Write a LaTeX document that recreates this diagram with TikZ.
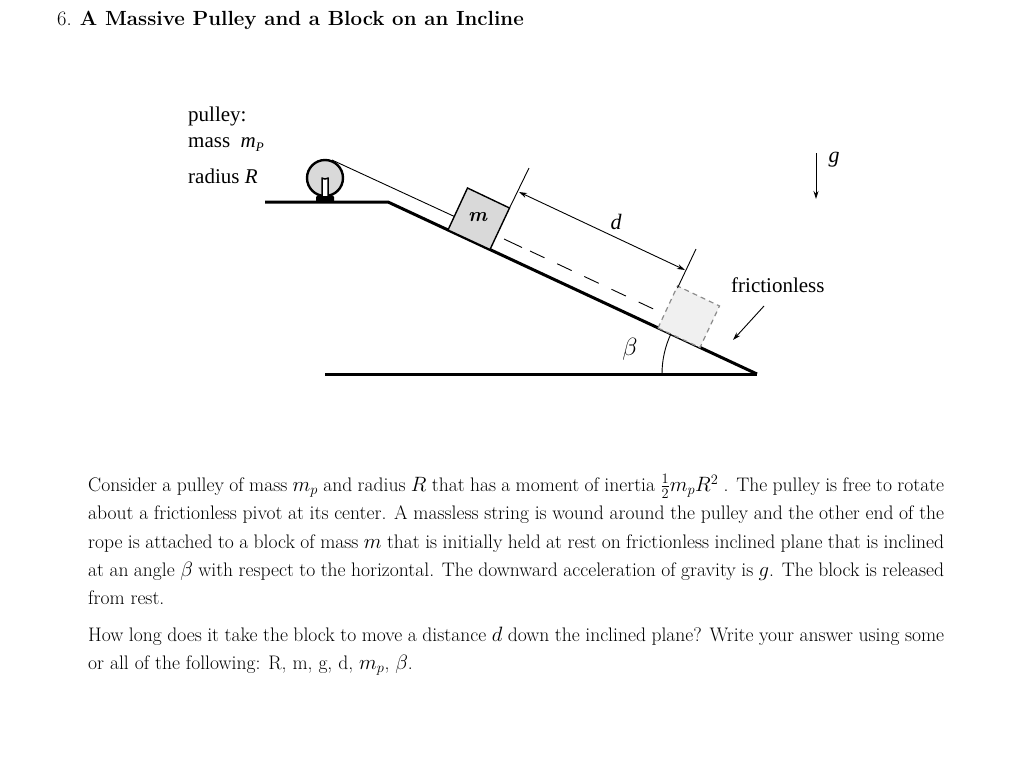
\documentclass[tikz,border=0pt]{standalone}
\usepackage{fontspec}
\newfontfamily\timesf{Liberation Serif}
\usetikzlibrary{arrows.meta}
\begin{document}
\begin{tikzpicture}[x=1pt,y=-1pt,
  thickline/.style={line width=3pt},
  thinline/.style={line width=0.9pt},
  lbl/.style={font=\timesf\fontsize{21}{24}\selectfont, inner sep=0},
  dimarrow/.style={thinline,{Stealth[length=8pt,width=5pt]}-{Stealth[length=8pt,width=5pt]}},
  onearrow/.style={thinline,-{Stealth[length=8pt,width=5pt]}}]
\useasboundingbox (0,0) rectangle (1024,766);
% title
\node[anchor=west,inner sep=0,font=\fontsize{20.5}{25}\selectfont] (title) at (57,20) {6. \textbf{A Massive Pulley and a Block on an Incline}};
% ground
\coordinate (ledgeL) at (265,202);
\coordinate (top) at (388,202);
\coordinate (apex) at (757,374);
\coordinate (baseL) at (325,374);
\draw[thickline,line join=miter] (ledgeL) -- (top) -- (apex);
\draw[thickline] (baseL) -- (apex);
% pulley
\node[circle,draw,line width=2.4pt,fill=black!15,minimum size=36pt,inner sep=0] (pulley) at (325,178) {};
\draw[line width=1.5pt,fill=white,rounded corners=2.5pt] (322,196) -- (322,176) arc(180:0:3) -- (328,196);
\fill[black,rounded corners=1pt] (316,202) rectangle (334,196);
% rope
\coordinate (ropeA) at (332,160);
\coordinate (ropeB) at (462,220);
\draw[thinline] (ropeA) -- (ropeB);
\draw[thinline] (504,239) -- (522,247.5);
\draw[thinline,dash pattern=on 16pt off 14pt] (530,251) -- (662,313);
% block
\draw[line width=1.4pt,fill=black!15] (448,230) -- (490,249.5) -- (509.5,208) -- (467.5,188) -- cycle;
\node[font=\fontsize{20}{24}\selectfont] (m) at (478,217) {\textbf{\textit{m}}};
% dashed box
\draw[line width=1.2pt,draw=black!45,dash pattern=on 5pt off 4pt,fill=black!6] (658,328) -- (700,347.5) -- (719.5,306) -- (677.5,286) -- cycle;
% dimension d
\coordinate (e1a) at (509.5,208); \coordinate (e1b) at (529,168);
\coordinate (e2a) at (677.5,288); \coordinate (e2b) at (696,249);
\draw[thinline] (e1a) -- (e1b);
\draw[thinline] (e2a) -- (e2b);
\coordinate (d1) at (519,192); \coordinate (d2) at (685,270);
\draw[dimarrow] (d1) -- (d2);
\node[lbl,font=\timesf\itshape\fontsize{22}{24}\selectfont] (d) at (616,222) {d};
% beta
\draw[thinline] (662,374) arc (180:205:95);
\node[inner sep=0,font=\fontsize{24}{26}\selectfont] (beta) at (630,349) {$\beta$};
% frictionless
\node[lbl,anchor=west] (fr) at (731,285) {frictionless};
\coordinate (frA) at (764,306); \coordinate (frB) at (733,340);
\draw[onearrow] (frA) -- (frB);
% g
\coordinate (gA) at (816,153); \coordinate (gB) at (816,199);
\draw[onearrow] (gA) -- (gB);
\node[lbl,font=\timesf\itshape\fontsize{22}{24}\selectfont] (g) at (834,160) {g};
% pulley labels
\node[lbl,anchor=west] (p1) at (188,116) {pulley:};
\node[lbl,anchor=west] (p2) at (188,145) {mass \ \textit{m}\raisebox{-4pt}{\fontsize{13}{14}\selectfont\textit{P}}};
\node[lbl,anchor=west] (p3) at (188,176) {radius \textit{R}};
% text
\node[anchor=north west,inner sep=0,text width=856pt,align=justify,font=\fontsize{19.6}{28.3}\selectfont] (body) at (88,474) {%
Consider a pulley of mass $m_p$ and radius $R$ that has a moment of inertia $\frac{1}{2}m_pR^2$ . The pulley is free to rotate about a frictionless pivot at its center. A massless string is wound around the pulley and the other end of the rope is attached to a block of mass $m$ that is initially held at rest on frictionless inclined plane that is inclined at an angle $\beta$ with respect to the horizontal. The downward acceleration of gravity is $g$. The block is released from rest.\par\vspace{8pt}
How long does it take the block to move a distance $d$ down the inclined plane? Write your answer using some or all of the following: R, m, g, d, $m_p$, $\beta$.};
\end{tikzpicture}
\end{document}
